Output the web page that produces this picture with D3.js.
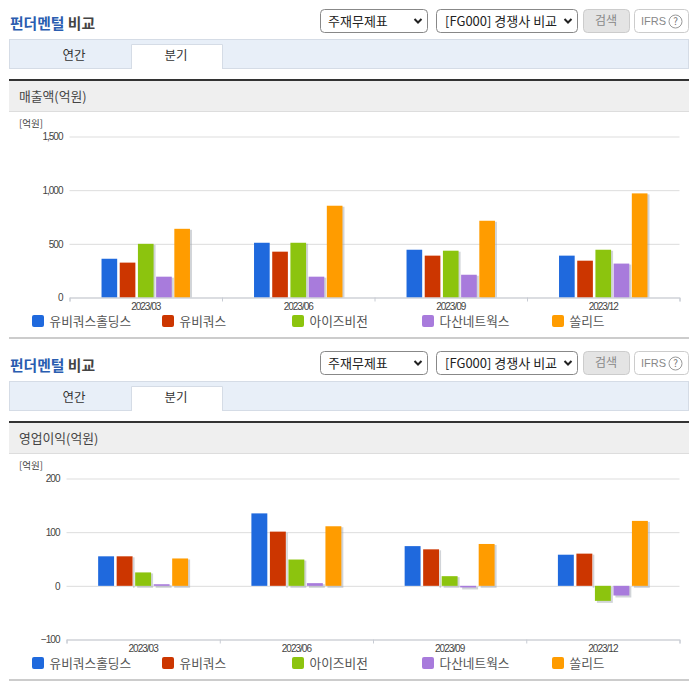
<!DOCTYPE html>
<html>
<head>
<meta charset="utf-8">
<script src="https://cdn.jsdelivr.net/npm/d3@7"></script>
<style>
  html, body { margin: 0; padding: 0; background: #fff; overflow: hidden; }
  text { font-family: "Noto Sans CJK KR", sans-serif; }
  .num text, text.num { font-family: "Liberation Sans", sans-serif; font-size: 10px; letter-spacing: -1px; fill: #444; }
</style>
</head>
<body>
<script>
const quarters = ["2023/03", "2023/06", "2023/09", "2023/12"]
const companies = ["유비쿼스홀딩스", "유비쿼스", "아이즈비전", "다산네트웍스", "쏠리드"]
const colors = ["#1f69dd", "#cc3600", "#8cc40e", "#a87bdc", "#ff9c00"]

const sales = [
  [361, 325, 500, 194, 640],
  [510, 427, 510, 194, 855],
  [445, 390, 436, 212, 715],
  [390, 343, 445, 316, 970]
]
const profit = [
  [55, 55, 25, 3, 51],
  [135, 101, 49, 5, 111],
  [74, 68, 18, -3, 78],
  [58, 60, -28, -18, 121]
]
const salesTicks = [0, 500, 1000, 1500]
const profitTicks = [-100, 0, 100, 200]

const svg = d3.select("body").append("svg")
  .attr("width", 696)
  .attr("height", 684)
  .style("display", "block")

function label(g, x, y, str, size, color, weight, anchor) {
  return g.append("text")
    .attr("x", x).attr("y", y)
    .attr("font-size", size)
    .attr("fill", color)
    .attr("font-weight", weight || 400)
    .attr("text-anchor", anchor || "start")
    .text(str)
}

function box(g, x, y, w, h, fill, stroke, r) {
  return g.append("rect")
    .attr("x", x).attr("y", y).attr("width", w).attr("height", h)
    .attr("fill", fill).attr("stroke", stroke).attr("rx", r || 0)
}

function chevron(g, x, y) {
  g.append("path")
    .attr("d", `M${x - 3.5},${y - 2} L${x},${y + 1.5} L${x + 3.5},${y - 2}`)
    .attr("fill", "none").attr("stroke", "#222").attr("stroke-width", 2)
}

// title row, tabs and grey header, same for both blocks
function drawHeader(g, metric) {
  const title = g.append("text").attr("x", 10).attr("y", 29).attr("font-size", 14.8).attr("font-weight", 700)
  title.append("tspan").attr("fill", "#2a5db0").text("펀더멘털")
  title.append("tspan").attr("fill", "#444").text(" 비교")

  box(g, 320.5, 9.5, 107, 23, "#fff", "#888", 4)
  label(g, 328, 26, "주재무제표", 13, "#222")
  chevron(g, 418, 21)
  box(g, 436.5, 9.5, 141, 23, "#fff", "#888", 4)
  label(g, 445, 26, "[FG000] 경쟁사 비교", 13, "#222")
  chevron(g, 568, 21)
  box(g, 583.5, 9.5, 46, 23, "#e4e4e4", "#ccc", 4)
  label(g, 606, 25, "검색", 12, "#888", 400, "middle")
  box(g, 634.5, 9.5, 54, 23, "#fff", "#ccc", 4)
  g.append("text").attr("class", "num").attr("x", 641).attr("y", 25)
    .style("font-size", "11px").style("letter-spacing", "0").style("fill", "#888").text("IFRS")
  g.append("circle").attr("cx", 675.5).attr("cy", 21.5).attr("r", 6.5)
    .attr("fill", "none").attr("stroke", "#999")
  label(g, 675.5, 25, "?", 10, "#777", 400, "middle")

  box(g, 9.5, 39.5, 679, 29, "#e8eff8", "#d5dce6")
  g.append("path").attr("d", "M131.5,69 V44.5 H222.5 V69").attr("fill", "#fff").attr("stroke", "#d5dce6")
  label(g, 74, 60, "연간", 12.5, "#333", 400, "middle")
  label(g, 176, 60, "분기", 12.5, "#333", 400, "middle")

  g.append("rect").attr("x", 9).attr("y", 79).attr("width", 680).attr("height", 2).attr("fill", "#333")
  g.append("rect").attr("x", 9).attr("y", 81).attr("width", 680).attr("height", 30).attr("fill", "#efefef")
  g.append("rect").attr("x", 9).attr("y", 111).attr("width", 680).attr("height", 1).attr("fill", "#ddd")
  label(g, 19, 101, metric, 12.8, "#444")
}

function drawChart(g, values, ticks, opt) {
  const y = d3.scaleLinear()
    .domain(d3.extent(ticks))
    .range([opt.bottom, opt.top])

  const x = d3.scaleBand()
    .domain(quarters)
    .range([opt.left, opt.right])

  const inner = d3.scaleBand()
    .domain(companies)
    .range([0, x.bandwidth()])
    .paddingInner(0.14)
    .paddingOuter(opt.outer)

  label(g, 19, 127, "[억원]", 9.5, "#444")

  const yAxis = g.append("g").attr("class", "num")
    .attr("transform", `translate(${opt.left},0)`)
    .call(d3.axisLeft(y)
      .tickValues(ticks)
      .tickSize(-(opt.right - opt.left))
      .tickPadding(7)
      .tickFormat(d3.format(",")))
  yAxis.select(".domain").remove()
  yAxis.selectAll(".tick line").attr("stroke", "#dddddd")

  // shadow stays inside the plot area
  const clipId = "clip" + opt.id
  g.append("clipPath").attr("id", clipId).append("rect")
    .attr("x", opt.left).attr("y", opt.top)
    .attr("width", opt.right - opt.left).attr("height", opt.bottom - opt.top)

  const groups = g.selectAll(".quarter")
    .data(values)
    .enter()
    .append("g")
    .attr("class", "quarter")
    .attr("transform", (d, i) => `translate(${x(quarters[i])},0)`)

  groups.selectAll(".shadow")
    .data(d => d)
    .enter()
    .append("rect")
    .attr("class", "shadow")
    .attr("clip-path", `url(#${clipId})`)
    .attr("x", (d, i) => inner(companies[i]) + 2)
    .attr("y", d => Math.min(y(d), y(0)) + 1)
    .attr("width", inner.bandwidth())
    .attr("height", d => Math.abs(y(d) - y(0)) + 1)
    .attr("fill", "#9aa0a8")
    .attr("opacity", 0.45)

  groups.selectAll(".bar")
    .data(d => d)
    .enter()
    .append("rect")
    .attr("class", "bar")
    .attr("x", (d, i) => inner(companies[i]))
    .attr("y", d => Math.min(y(d), y(0)))
    .attr("width", inner.bandwidth())
    .attr("height", d => Math.abs(y(d) - y(0)))
    .attr("fill", (d, i) => colors[i])

  const edges = d3.scaleLinear().domain([0, quarters.length]).range([opt.left, opt.right])
  const edgeAxis = g.append("g")
    .attr("transform", `translate(0,${opt.bottom})`)
    .call(d3.axisBottom(edges).ticks(quarters.length).tickSize(4).tickFormat(""))
  edgeAxis.select(".domain").attr("stroke", "#c8ccd4")
  edgeAxis.selectAll(".tick line").attr("stroke", "#c8ccd4")

  const xAxis = g.append("g").attr("class", "num")
    .attr("transform", `translate(0,${opt.bottom})`)
    .call(d3.axisBottom(x).tickSize(0).tickPadding(5))
  xAxis.select(".domain").remove()

  const legend = g.selectAll(".legend")
    .data(companies)
    .enter()
    .append("g")
    .attr("class", "legend")
    .attr("transform", (d, i) => `translate(${32 + i * 130},315)`)
  legend.append("rect")
    .attr("width", 12).attr("height", 12).attr("rx", 2)
    .attr("fill", (d, i) => colors[i])
  legend.append("text")
    .attr("x", 17.5)
    .attr("y", 10.5)
    .attr("font-size", 12.7)
    .attr("fill", "#555")
    .text(d => d)

  g.append("rect").attr("x", 9).attr("y", 337).attr("width", 680).attr("height", 2).attr("fill", "#ccc")
}

const top1 = svg.append("g")
drawHeader(top1, "매출액(억원)")
drawChart(top1, sales, salesTicks, { id: 1, left: 69.5, right: 679.5, top: 136.5, bottom: 297.5, outer: 1.76 })

const top2 = svg.append("g").attr("transform", "translate(0,342)")
drawHeader(top2, "영업이익(억원)")
drawChart(top2, profit, profitTicks, { id: 2, left: 66.5, right: 679.5, top: 136.5, bottom: 297.5, outer: 1.71 })
</script>
</body>
</html>
